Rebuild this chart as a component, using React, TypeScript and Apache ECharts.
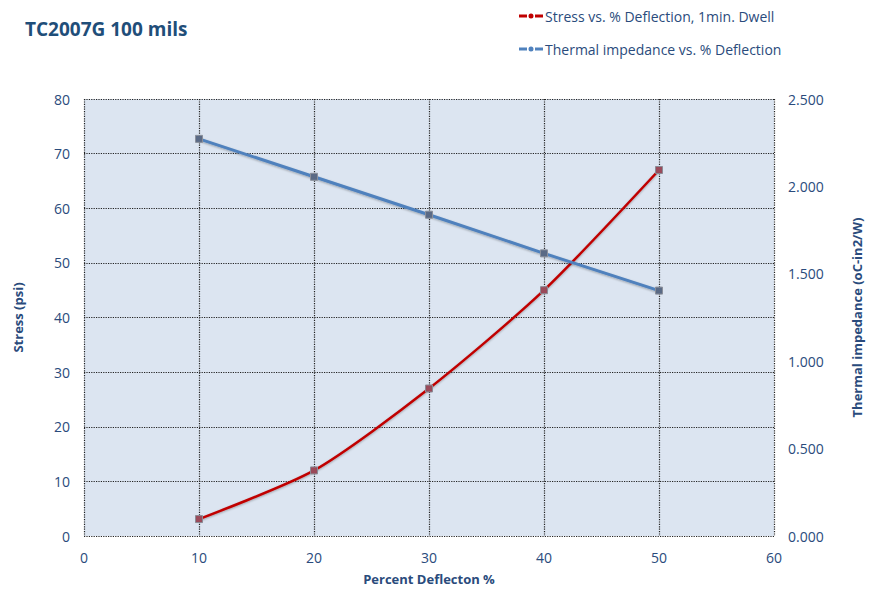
import React, { useEffect, useRef } from "react";
import * as echarts from "echarts";

const deflection = [10, 20, 30, 40, 50];
const stress = [3.1, 12.0, 27.0, 45.0, 67.0];
const impedance = [2.272, 2.055, 1.838, 1.617, 1.404];

const stressName = "Stress vs. % Deflection, 1min. Dwell";
const impName = "Thermal impedance vs. % Deflection";

const textColor = "#2a4b7c";
const font = "Open Sans";
const legendIcon = "path://M0 2h8v3H0z M9.5 3.5a2.5 2.5 0 1 0 5 0a2.5 2.5 0 1 0 -5 0z M16 2h8v3H16z";

export default function App() {
  const ref = useRef<HTMLDivElement>(null);
  useEffect(() => {
    const chart = echarts.init(ref.current!, null, { renderer: "svg" });
    const split = { show: true, lineStyle: { type: "dotted", color: "#222", width: 1.2 } };
    chart.setOption({
      animation: false,
      textStyle: { fontFamily: font },
      title: {
        text: "TC2007G 100 mils",
        left: 20,
        top: 14,
        textStyle: { fontFamily: font, fontSize: 19, fontWeight: "bold", color: "#1f4e79" },
      },
      legend: [
        {
          data: [{ name: stressName, icon: legendIcon, itemStyle: { color: "#c00000", borderWidth: 0 } }],
          left: 514,
          top: 4,
          itemWidth: 24,
          itemHeight: 6,
          textStyle: { color: textColor, fontSize: 14, fontFamily: font, padding: [0, 0, 0, -3] },
        },
        {
          data: [{ name: impName, icon: legendIcon, itemStyle: { color: "#4f81bd", borderWidth: 0 } }],
          left: 514,
          top: 37,
          itemWidth: 24,
          itemHeight: 6,
          textStyle: { color: textColor, fontSize: 14, fontFamily: font, padding: [0, 0, 0, -3] },
        },
      ],
      grid: {
        left: 84,
        right: 108,
        top: 99,
        bottom: 53,
        show: true,
        backgroundColor: "#dce5f1",
        borderWidth: 0,
      },
      xAxis: {
        type: "value",
        min: 0,
        max: 60,
        interval: 10,
        name: "Percent Deflecton %",
        nameLocation: "middle",
        nameGap: 36,
        nameTextStyle: { color: textColor, fontWeight: "bold", fontSize: 13, fontFamily: font },
        axisLine: { show: false },
        axisTick: { show: false },
        axisLabel: { color: textColor, fontSize: 14, margin: 14 },
        splitLine: split,
      },
      yAxis: [
        {
          type: "value",
          min: 0,
          max: 80,
          interval: 10,
          name: "Stress (psi)",
          nameLocation: "middle",
          nameGap: 60,
          nameTextStyle: { color: textColor, fontWeight: "bold", fontSize: 13, fontFamily: font },
          axisLine: { show: false },
          axisTick: { show: false },
          axisLabel: { color: textColor, fontSize: 14, margin: 14 },
          splitLine: split,
        },
        {
          type: "value",
          min: 0,
          max: 2.5,
          interval: 0.5,
          name: "Thermal impedance (oC-in2/W)",
          nameLocation: "middle",
          nameGap: 76,
          nameRotate: 90,
          nameTextStyle: { color: textColor, fontWeight: "bold", fontSize: 13, fontFamily: font },
          axisLine: { show: false },
          axisTick: { show: false },
          axisLabel: {
            color: textColor,
            fontSize: 14,
            margin: 14,
            formatter: (v: number) => v.toFixed(3),
          },
          splitLine: { show: false },
        },
      ],
      series: [
        {
          name: stressName,
          type: "line",
          yAxisIndex: 0,
          smooth: 0.25,
          data: deflection.map((x, i) => [x, stress[i]]),
          symbol: "rect",
          symbolSize: 7,
          color: "#c00000",
          lineStyle: { width: 2.5, color: "#c00000", shadowColor: "rgba(0,0,0,0.3)", shadowBlur: 2, shadowOffsetY: 1 },
          itemStyle: { color: "#9a4a5a", borderColor: "#8a8a95", borderWidth: 1 },
        },
        {
          name: impName,
          type: "line",
          yAxisIndex: 1,
          data: deflection.map((x, i) => [x, impedance[i]]),
          symbol: "rect",
          symbolSize: 7,
          color: "#4f81bd",
          lineStyle: { width: 3, color: "#4f81bd", shadowColor: "rgba(0,0,0,0.3)", shadowBlur: 2, shadowOffsetY: 1 },
          itemStyle: { color: "#5a6a85", borderColor: "#8a8f9a", borderWidth: 1 },
        },
      ],
    });
    return () => chart.dispose();
  }, []);
  return <div ref={ref} style={{ width: 882, height: 590, position: "absolute", left: 0, top: 0 }} />;
}
